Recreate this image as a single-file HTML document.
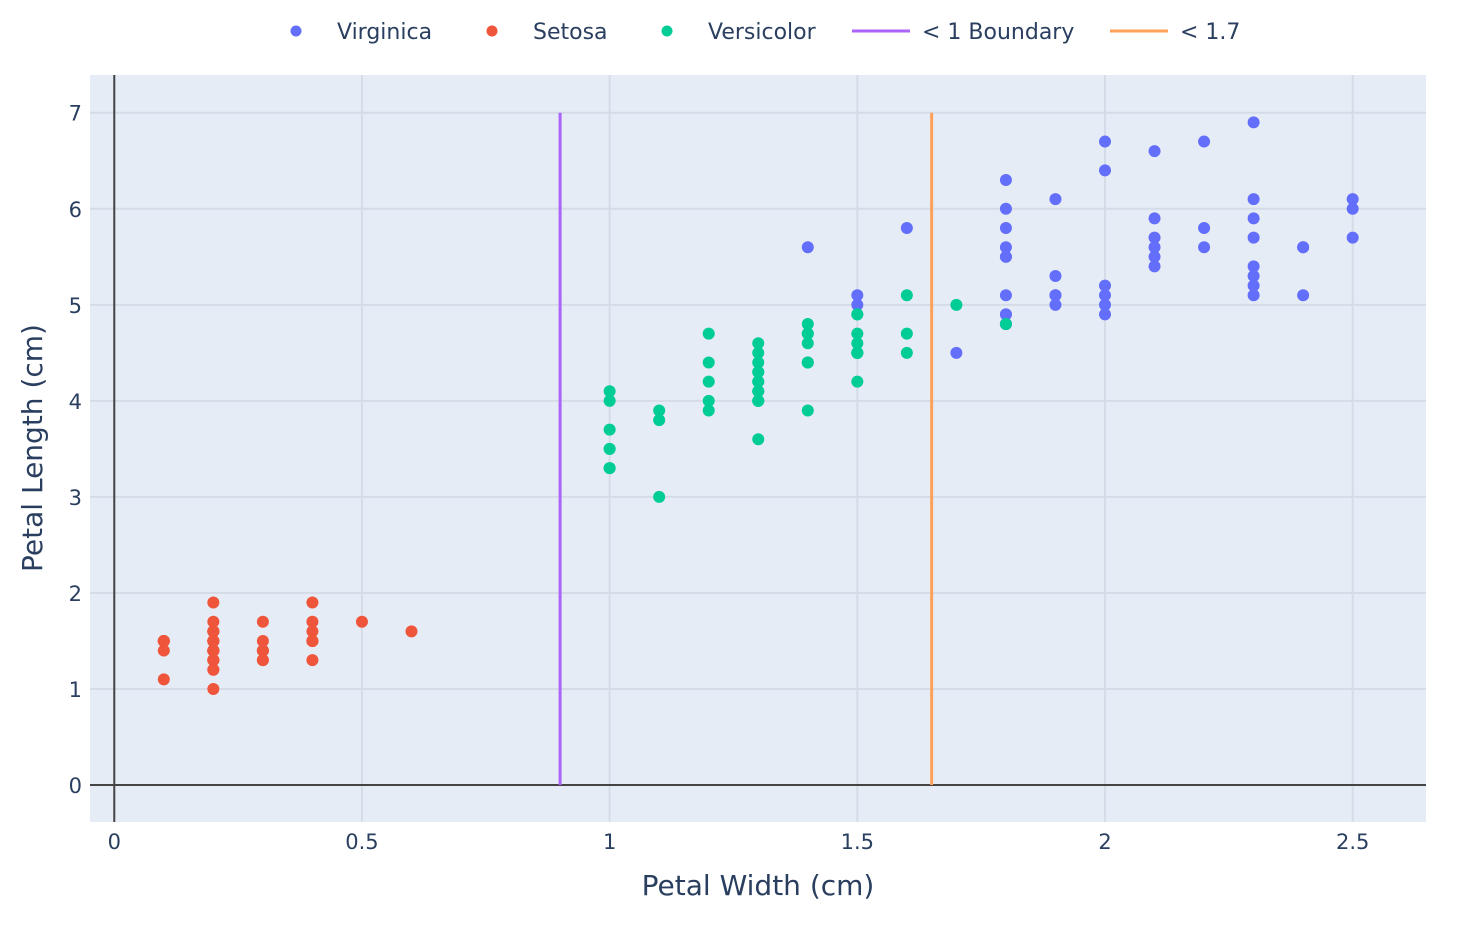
<!DOCTYPE html>
<html><head><meta charset="utf-8"><style>
body{margin:0;background:#fff;font-family:"DejaVu Sans",sans-serif;}
svg text{font-family:"DejaVu Sans",sans-serif;fill:#2a3f5f;}
</style></head><body>
<svg id="chart" width="1476" height="922" xmlns="http://www.w3.org/2000/svg">
<rect x="90" y="75" width="1336" height="747" fill="#e5ecf6"/>
<g id="grid"></g>
<g id="marks"></g>
<g id="legend">
<circle cx="296" cy="31" r="5.5" fill="#636efa"/>
<text x="337" y="39" font-size="22">Virginica</text>
<circle cx="492" cy="31" r="5.5" fill="#EF553B"/>
<text x="533" y="39" font-size="22">Setosa</text>
<circle cx="667" cy="31" r="5.5" fill="#00cc96"/>
<text x="708" y="39" font-size="22">Versicolor</text>
<line x1="852" y1="31" x2="910" y2="31" stroke="#ab63fa" stroke-width="3"/>
<text x="922" y="39" font-size="22">&lt; 1 Boundary</text>
<line x1="1110" y1="31" x2="1168" y2="31" stroke="#FFA15A" stroke-width="3"/>
<text x="1180" y="39" font-size="22">&lt; 1.7</text>
</g>
<text x="758" y="895" font-size="28" text-anchor="middle">Petal Width (cm)</text>
<text transform="translate(42,448) rotate(-90)" font-size="28" text-anchor="middle">Petal Length (cm)</text>
</svg>
<script>
const xTicks=[0,0.5,1,1.5,2,2.5];
const xTickLabels=["0","0.5","1","1.5","2","2.5"];
const yTicks=[0,1,2,3,4,5,6,7];
const setosaW=[.2,.2,.2,.2,.2,.4,.3,.2,.2,.1,.2,.2,.1,.1,.2,.4,.4,.3,.3,.3,.2,.4,.2,.5,.2,.2,.4,.2,.2,.2,.2,.4,.1,.2,.1,.2,.2,.1,.2,.2,.3,.3,.2,.6,.4,.3,.2,.2,.2,.2];
const setosaL=[1.4,1.4,1.3,1.5,1.4,1.7,1.4,1.5,1.4,1.5,1.5,1.6,1.4,1.1,1.2,1.5,1.3,1.4,1.7,1.5,1.7,1.5,1.0,1.7,1.9,1.6,1.6,1.5,1.4,1.6,1.6,1.5,1.5,1.4,1.5,1.2,1.3,1.5,1.3,1.5,1.3,1.3,1.3,1.6,1.9,1.4,1.6,1.4,1.5,1.4];
const versW=[1.4,1.5,1.5,1.3,1.5,1.3,1.6,1.0,1.3,1.4,1.0,1.5,1.0,1.4,1.3,1.4,1.5,1.0,1.5,1.1,1.8,1.3,1.5,1.2,1.3,1.4,1.4,1.7,1.5,1.0,1.1,1.0,1.2,1.6,1.5,1.6,1.5,1.3,1.3,1.3,1.2,1.4,1.2,1.0,1.3,1.2,1.3,1.3,1.1,1.3];
const versL=[4.7,4.5,4.9,4.0,4.6,4.5,4.7,3.3,4.6,3.9,3.5,4.2,4.0,4.7,3.6,4.4,4.5,4.1,4.5,3.9,4.8,4.0,4.9,4.7,4.3,4.4,4.8,5.0,4.5,3.5,3.8,3.7,3.9,5.1,4.5,4.5,4.7,4.4,4.1,4.0,4.4,4.6,4.0,3.3,4.2,4.2,4.2,4.3,3.0,4.1];
const virgW=[2.5,1.9,2.1,1.8,2.2,2.1,1.7,1.8,1.8,2.5,2.0,1.9,2.1,2.0,2.4,2.3,1.8,2.2,2.3,1.5,2.3,2.0,2.0,1.8,2.1,1.8,1.8,1.8,2.1,1.6,1.9,2.0,2.2,1.5,1.4,2.3,2.4,1.8,1.8,2.1,2.4,2.3,1.9,2.3,2.5,2.3,1.9,2.0,2.3,1.8];
const virgL=[6.0,5.1,5.9,5.6,5.8,6.6,4.5,6.3,5.8,6.1,5.1,5.3,5.5,5.0,5.1,5.3,5.5,6.7,6.9,5.0,5.7,4.9,6.7,4.9,5.7,6.0,4.8,4.9,5.6,5.8,6.1,6.4,5.6,5.1,5.6,6.1,5.6,5.5,4.8,5.4,5.6,5.1,5.1,5.9,5.7,5.2,5.0,5.2,5.4,5.1];
const boundaryX=[0.9,1.65];
const boundaryY=[0,7];
const NS="http://www.w3.org/2000/svg";
const L=90,R=1426,T=75,B=822,xMin=-0.049,xMax=2.648,yMin=-0.385,yMax=7.393;
const X=v=>L+(v-xMin)/(xMax-xMin)*(R-L);
const Y=v=>B-(v-yMin)/(yMax-yMin)*(B-T);
function mk(tag,attrs,parent){const e=document.createElementNS(NS,tag);for(const k in attrs)e.setAttribute(k,attrs[k]);parent.appendChild(e);return e;}
const grid=document.getElementById('grid'),marks=document.getElementById('marks');
xTicks.forEach((t,i)=>{
 if(t!==0){const g=mk('line',{x1:X(t),x2:X(t),y1:T,y2:B,stroke:'#d5dce8','stroke-width':2},grid);
 
 }
 const tx=mk('text',{x:X(t),y:B+27,'font-size':21,'text-anchor':'middle'},grid);tx.textContent=xTickLabels[i];
 
 
});
yTicks.forEach(t=>{
 if(t!==0){const g=mk('line',{x1:L,x2:R,y1:Y(t),y2:Y(t),stroke:'#d5dce8','stroke-width':2},grid);
 
 }
 const tx=mk('text',{x:L-8,y:Y(t)+8,'font-size':21,'text-anchor':'end'},grid);tx.textContent=String(t);
 
 
});
const zx=mk('line',{x1:X(0),x2:X(0),y1:T,y2:B,stroke:'#444','stroke-width':2},grid);


const zy=mk('line',{x1:L,x2:R,y1:Y(0),y2:Y(0),stroke:'#444','stroke-width':2},grid);


function series(W,Lv,color,name){W.forEach((w,i)=>{const c=mk('circle',{cx:X(w),cy:Y(Lv[i]),r:6,fill:color},marks);
 
 });}
series(virgW,virgL,'#636efa','virginica-point');
series(setosaW,setosaL,'#EF553B','setosa-point');
series(versW,versL,'#00cc96','versicolor-point');
const cols=['#ab63fa','#FFA15A'];
boundaryX.forEach((b,i)=>{const l=mk('line',{x1:X(b),x2:X(b),y1:Y(boundaryY[0]),y2:Y(boundaryY[1]),stroke:cols[i],'stroke-width':3},marks);
 
 });
</script>
</body></html>
